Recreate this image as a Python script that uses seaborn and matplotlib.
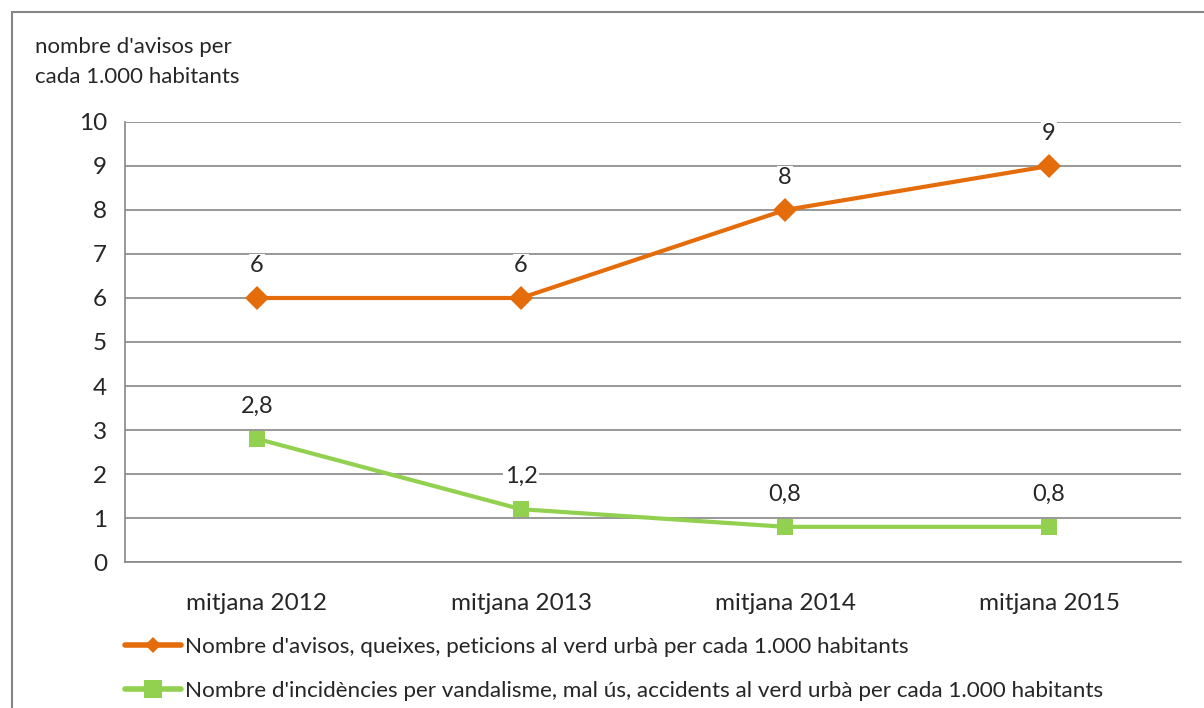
import matplotlib.pyplot as plt
import seaborn as sns
import pandas as pd
from matplotlib.patches import Rectangle

categories = ['mitjana 2012', 'mitjana 2013', 'mitjana 2014', 'mitjana 2015']
avisos = [6, 6, 8, 9]
incidencies = [2.8, 1.2, 0.8, 0.8]
series_names = [
    "Nombre d'avisos, queixes, peticions al verd urbà per cada 1.000 habitants",
    "Nombre d'incidències per vandalisme, mal ús, accidents al verd urbà per cada 1.000 habitants",
]
colors = ['#E46C0A', '#92D050']
markers = ['D', 's']
ytitle = "nombre d'avisos per\ncada 1.000 habitants"

df = pd.DataFrame({
    'x': [i + 0.5 for i in range(len(categories))] * 2,
    'valor': avisos + incidencies,
    'serie': [series_names[0]] * 4 + [series_names[1]] * 4,
})

sns.set_style('white')
plt.rcParams['font.family'] = ['Lato', 'DejaVu Sans']

fig = plt.figure(figsize=(12.04, 7.08), dpi=100)
ax = fig.add_axes([0.1038, 0.2062, 0.8772, 0.6215])

# outer chart border
fig.patches.append(Rectangle((12 / 1204, -0.05), 1.2, 1 - 12 / 708 + 0.05,
                             transform=fig.transFigure, fill=False,
                             edgecolor='#868686', linewidth=1.5))

sns.lineplot(data=df, x='x', y='valor', hue='serie', style='serie',
             palette=colors, markers=markers, dashes=False,
             linewidth=3, markersize=12, markeredgewidth=0, ax=ax, legend=False)

for vals in (avisos, incidencies):
    for i, v in enumerate(vals):
        ax.text(i + 0.5, v + 0.5, f'{v:g}'.replace('.', ','), ha='center',
                va='bottom', fontsize=17,
                bbox=dict(facecolor='white', edgecolor='none', pad=1))

ax.set_xlim(0, 4)
ax.set_ylim(0, 10)
ax.set_yticks(range(0, 11))
ax.set_yticklabels([str(v) for v in range(0, 11)], fontsize=17.5)
ax.set_xticks([0.5, 1.5, 2.5, 3.5])
ax.set_xticklabels(categories, fontsize=17.5)
ax.set_xticks([0, 1, 2, 3, 4], minor=True)
ax.tick_params(axis='x', which='major', length=0, pad=22)
ax.tick_params(axis='x', which='minor', length=7, color='#868686', width=1.2)
ax.tick_params(axis='y', length=7, color='#868686', width=1.2, pad=6)
ax.grid(axis='y', color='#868686', linewidth=1.2)
ax.set_axisbelow(True)
for side in ['top', 'right']:
    ax.spines[side].set_visible(False)
for side in ['left', 'bottom']:
    ax.spines[side].set_color('#868686')
    ax.spines[side].set_linewidth(1.2)
ax.set_xlabel('')
ax.set_ylabel('')

fig.text(35 / 1204, 1 - 62 / 708, ytitle, fontsize=16, va='center', ha='left',
         linespacing=1.6)

handles = [plt.Line2D([], [], color=c, marker=m, linewidth=4,
                      markersize=s, markeredgewidth=0)
           for c, m, s in zip(colors, markers, [8, 13])]
fig.legend(handles, series_names, loc='upper left',
           bbox_to_anchor=(116 / 1204, 1 - 628 / 708), frameon=False,
           fontsize=16.2, handlelength=2.5, handletextpad=0.15,
           labelspacing=1.05, borderaxespad=0)

fig.savefig('out.png', dpi=100)
